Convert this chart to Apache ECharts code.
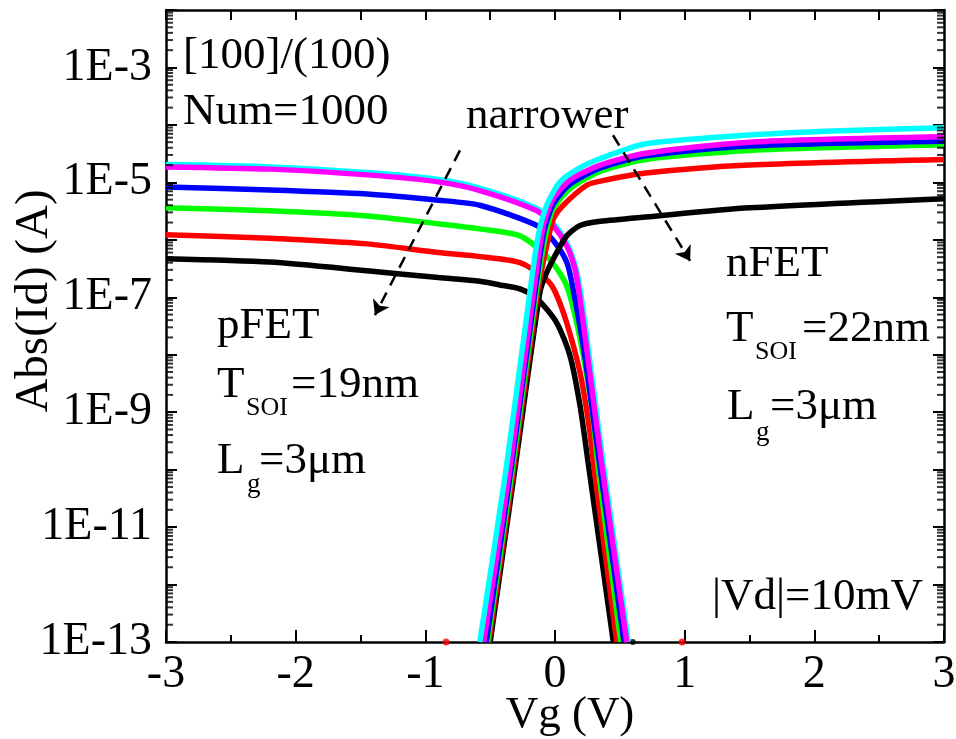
<!DOCTYPE html>
<html>
<head>
<meta charset="utf-8">
<script src="https://cdn.jsdelivr.net/npm/echarts@6/dist/echarts.min.js"></script>
<style>
  html, body { margin: 0; background: #fff; }
  #chart { width: 956px; height: 739px; }
</style>
</head>
<body>
<div id="chart"></div>
<script>
// pFET branches: [Vg (V), |Id| (A)]
const blackP = [[-3, 4.7e-7], [-2.2, 4.1e-7], [-1.45, 2.9e-7], [-0.9, 2.2e-7], [-0.58, 1.9e-7], [-0.4, 1.6e-7], [-0.27, 1.4e-7], [-0.14, 9.5e-8], [0.013, 3.6e-8], [0.116, 9.5e-9], [0.193, 1.3e-9], [0.257, 1.26e-10], [0.45, 1e-13]];
const redP = [[-3, 1.23e-6], [-2.2, 1.07e-6], [-1.45, 8.5e-7], [-0.9, 6.0e-7], [-0.58, 5.1e-7], [-0.27, 4.0e-7], [-0.064, 2.0e-7], [0, 1.26e-7], [0.09, 3.6e-8], [0.193, 4.9e-9], [0.26, 6.3e-10], [0.3, 1.12e-10], [0.476, 1e-13]];
const greenP = [[-3, 3.6e-6], [-2.2, 3.2e-6], [-1.45, 2.6e-6], [-0.9, 1.9e-6], [-0.58, 1.55e-6], [-0.27, 1.17e-6], [-0.064, 5.2e-7], [0.064, 2.1e-7], [0.116, 1.05e-7], [0.193, 1.9e-8], [0.283, 1.26e-9], [0.335, 1e-10], [0.507, 1e-13]];
const blueP = [[-3, 8.3e-6], [-2.2, 7.4e-6], [-1.45, 6.3e-6], [-0.9, 4.9e-6], [-0.58, 4.0e-6], [-0.14, 1.78e-6], [-0.015, 9.8e-7], [0.09, 4.1e-7], [0.14, 1.38e-7], [0.23, 9.5e-9], [0.35, 1e-10], [0.532, 1e-13]];
const magentaP = [[-3, 1.86e-5], [-2.2, 1.7e-5], [-1.45, 1.35e-5], [-0.9, 1.02e-5], [-0.58, 7.2e-6], [-0.14, 3.2e-6], [-0.015, 1.78e-6], [0.09, 7.9e-7], [0.154, 3.1e-7], [0.193, 9.3e-8], [0.275, 3.7e-9], [0.36, 1.26e-10], [0.553, 1e-13]];
const cyanP = [[-3, 2.04e-5], [-2.2, 1.86e-5], [-1.45, 1.48e-5], [-0.9, 1.12e-5], [-0.58, 7.9e-6], [-0.14, 3.5e-6], [-0.015, 1.95e-6], [0.09, 8.9e-7], [0.16, 3.3e-7], [0.205, 9.3e-8], [0.287, 3.7e-9], [0.372, 1.26e-10], [0.565, 1e-13]];

// nFET branches
const blackN = [[-0.5, 1e-13], [-0.31, 1e-10], [-0.116, 1.23e-7], [-0.064, 2.7e-7], [0.013, 6.0e-7], [0.09, 1.17e-6], [0.193, 1.78e-6], [0.35, 2.1e-6], [0.7, 2.5e-6], [1.5, 3.6e-6], [3, 5.2e-6]];
const redN = [[-0.51, 1e-13], [-0.32, 1e-10], [-0.135, 1.2e-7], [-0.064, 7.9e-7], [-0.013, 2.3e-6], [0.064, 4.0e-6], [0.244, 8.9e-6], [0.35, 1.05e-5], [0.7, 1.45e-5], [1.5, 2.0e-5], [3, 2.5e-5]];
const greenN = [[-0.52, 1e-13], [-0.33, 1e-10], [-0.145, 1.2e-7], [-0.075, 1.12e-6], [-0.013, 3.5e-6], [0.116, 7.8e-6], [0.35, 1.55e-5], [0.7, 2.5e-5], [1.5, 3.6e-5], [3, 4.5e-5]];
const blueN = [[-0.53, 1e-13], [-0.34, 1e-10], [-0.155, 1.2e-7], [-0.085, 1.4e-6], [-0.013, 4.2e-6], [0.116, 9.3e-6], [0.35, 1.78e-5], [0.7, 2.9e-5], [1.5, 4.3e-5], [3, 5.2e-5]];
const magentaN = [[-0.55, 1e-13], [-0.35, 1e-10], [-0.165, 1.26e-7], [-0.09, 1.78e-6], [-0.013, 5.2e-6], [0.116, 1.1e-5], [0.35, 2.0e-5], [0.7, 3.2e-5], [1.5, 5.0e-5], [3, 6.2e-5]];
const cyanN = [[-0.58, 1e-13], [-0.378, 1e-10], [-0.193, 1.26e-7], [-0.13, 1.17e-6], [-0.064, 4.0e-6], [0.039, 1.02e-5], [0.18, 1.74e-5], [0.35, 2.6e-5], [0.7, 4.7e-5], [1.46, 6.6e-5], [2.2, 7.9e-5], [3, 8.9e-5]];

// stray points lying on the bottom axis
const floorRed = [[-0.84, 1e-13], [0.98, 1e-13]];
const floorBlack = [[0.6, 1e-13]];

// dashed "narrower" arrows (start, end)
const arrowP = [[-0.733, 3.6e-5], [-1.389, 4.9e-8]];
const arrowN = [[0.4475, 6.6e-5], [1.042, 4.3e-7]];

// axis ticks
const decadeTicks = [1e-13, 1e-12, 1e-11, 1e-10, 1e-9, 1e-8, 1e-7, 1e-6, 1e-5, 1e-4, 1e-3, 1e-2];
const labelTicks = [1e-13, 1e-11, 1e-9, 1e-7, 1e-5, 1e-3];
const minorMult = [2, 3, 4, 5, 6, 7, 8, 9];

const FONT = '"Liberation Serif", "Times New Roman", serif';
const colors = { black: '#000000', red: '#ff0000', green: '#00ff00', blue: '#0000ff', magenta: '#ff00ff', cyan: '#00ffff' };

const lineSeries = (name, data, color) => ({
  name: name,
  type: 'line',
  data: data,
  showSymbol: false,
  smooth: 0.25,
  lineStyle: { color: color, width: 5.5 },
  itemStyle: { color: color },
  silent: true
});

const yMajor = (pos) => ({
  type: 'log', logBase: 10, min: 1e-13, max: 1e-2, position: pos,
  axisLine: { show: true, onZero: false, lineStyle: { color: '#000', width: 2.5 } },
  axisTick: { show: true, inside: true, length: 11, customValues: decadeTicks, lineStyle: { color: '#000', width: 2 } },
  axisLabel: {
    show: pos === 'left', customValues: labelTicks, margin: 14,
    fontSize: 46, fontFamily: FONT, color: '#000',
    formatter: v => '1E' + Math.round(Math.log10(v))
  },
  splitLine: { show: false }
});

// log minor ticks drawn as tiny bars on the plot edges, placed by the y scale
const leftMinor = [];
const rightMinor = [];
for (let i = 0; i < decadeTicks.length - 1; i++) {
  for (let j = 0; j < minorMult.length; j++) {
    leftMinor.push([-3, decadeTicks[i] * minorMult[j]]);
    rightMinor.push([3, decadeTicks[i] * minorMult[j]]);
  }
}
const tickSeries = (data, dx) => ({
  type: 'scatter',
  data: data,
  symbol: 'rect',
  symbolSize: [7, 2],
  symbolOffset: [dx, 0],
  itemStyle: { color: '#000' },
  silent: true,
  clip: false,
  z: 10
});

const series = [
  lineSeries('cyanP', cyanP, colors.cyan),
  lineSeries('blackP', blackP, colors.black),
  lineSeries('redP', redP, colors.red),
  lineSeries('greenP', greenP, colors.green),
  lineSeries('blueP', blueP, colors.blue),
  lineSeries('magentaP', magentaP, colors.magenta),
  lineSeries('blackN', blackN, colors.black),
  lineSeries('redN', redN, colors.red),
  lineSeries('greenN', greenN, colors.green),
  lineSeries('blueN', blueN, colors.blue),
  lineSeries('magentaN', magentaN, colors.magenta),
  lineSeries('cyanN', cyanN, colors.cyan),
  { type: 'scatter', data: floorRed, symbolSize: 7, itemStyle: { color: colors.red }, silent: true, z: 1 },
  { type: 'scatter', data: floorBlack, symbolSize: 6, itemStyle: { color: colors.black }, silent: true, z: 1 },
  tickSeries(leftMinor, 3.5),
  tickSeries(rightMinor, -3.5)
];

// arrows ride on the first series
series[0].markLine = {
  silent: true,
  symbol: ['none', 'arrow'],
  symbolSize: 14,
  label: { show: false },
  lineStyle: { color: '#000', width: 2.5, type: [12, 8] },
  data: [
    [{ coord: arrowP[0] }, { coord: arrowP[1] }],
    [{ coord: arrowN[0] }, { coord: arrowN[1] }]
  ]
};

// annotation text: [text, x, baseline y, font size]
const notes = [
  ['[100]/(100)', 183, 70, 45],
  ['Num=1000', 183, 126, 45],
  ['narrower', 466, 130, 45],
  ['pFET', 217, 340, 45],
  ['T', 217, 399, 45], ['SOI', 246, 416, 26], ['=19nm', 291, 399, 45],
  ['L', 217, 475, 45], ['g', 247, 493, 27], ['=3μm', 259, 475, 45],
  ['nFET', 726, 278, 45],
  ['T', 726, 343, 45], ['SOI', 755, 360, 26], ['=22nm', 802, 343, 45],
  ['L', 727, 421, 45], ['g', 756, 441, 27], ['=3μm', 770, 421, 45],
  ['|Vd|=10mV', 712, 611, 45]
];

const chart = echarts.init(document.getElementById('chart'));
chart.setOption({
  animation: false,
  backgroundColor: '#fff',
  grid: { left: 166, right: 12, top: 10, bottom: 97, containLabel: false, outerBoundsMode: 'none' },
  xAxis: [
    {
      type: 'value', min: -3, max: 3, interval: 1, position: 'bottom',
      name: 'Vg (V)', nameLocation: 'middle', nameGap: 51, nameMoveOverlap: false,
      nameTextStyle: { fontSize: 45, fontFamily: FONT, color: '#000', padding: [0, 0, 0, 30] },
      axisLine: { show: true, onZero: false, lineStyle: { color: '#000', width: 2.5 } },
      axisTick: { show: true, inside: true, length: 12, lineStyle: { color: '#000', width: 2 } },
      minorTick: { show: true, splitNumber: 2, length: 7, lineStyle: { color: '#000', width: 2 } },
      axisLabel: { margin: 10, fontSize: 46, fontFamily: FONT, color: '#000' },
      splitLine: { show: false }
    },
    {
      type: 'value', min: -3, max: 3, interval: 0.5, position: 'top',
      axisLine: { show: true, onZero: false, lineStyle: { color: '#000', width: 2.5 } },
      axisTick: { show: true, inside: true, length: 10, lineStyle: { color: '#000', width: 2 } },
      axisLabel: { show: false },
      splitLine: { show: false }
    }
  ],
  yAxis: [
    Object.assign(yMajor('left'), {
      name: 'Abs(Id) (A)', nameLocation: 'middle', nameGap: 108, nameMoveOverlap: false,
      nameTextStyle: { fontSize: 47, fontFamily: FONT, color: '#000', padding: [0, 0, 0, 50] }
    }),
    yMajor('right')
  ],
  series: series,
  graphic: notes.map(([t, x, base, fs]) => ({
    type: 'text',
    x: x,
    y: base - 0.305 * fs,
    silent: true,
    style: { text: t, font: fs + 'px ' + FONT, fill: '#000', verticalAlign: 'middle', align: 'left' }
  }))
});
</script>
</body>
</html>
